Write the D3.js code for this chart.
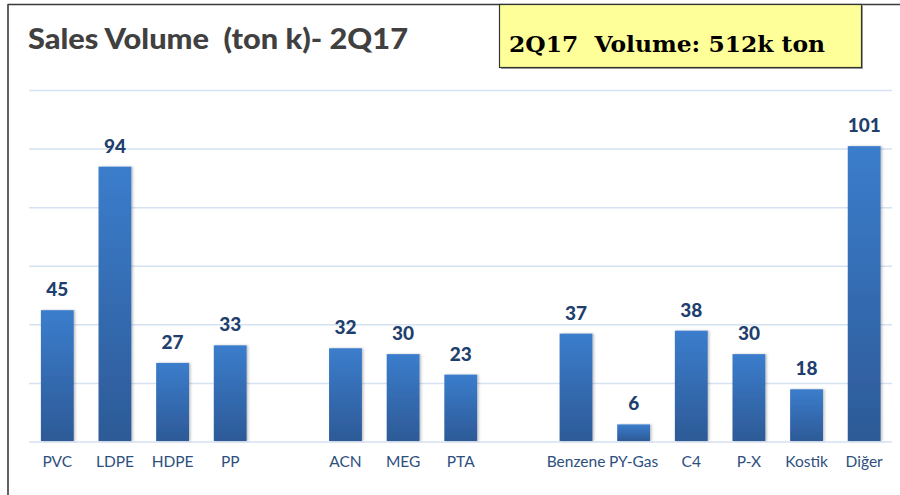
<!DOCTYPE html>
<html>
<head>
<meta charset="utf-8">
<script src="https://cdn.jsdelivr.net/npm/d3@7"></script>
<style>
    body { margin: 0; background: #fff; }
    svg { display: block; }
</style>
</head>
<body>
<script>
    // slots with an empty name are the gaps between product groups
    var categories = ['PVC', 'LDPE', 'HDPE', 'PP', '', 'ACN', 'MEG', 'PTA', '',
        'Benzene', 'PY-Gas', 'C4', 'P-X', 'Kostik', 'Diğer'];
    var volumes = [45, 94, 27, 33, null, 32, 30, 23, null, 37, 6, 38, 30, 18, 101];
    var gridTicks = [0, 20, 40, 60, 80, 100, 120];
    var titleText = 'Sales Volume\u00a0 (ton k)- 2Q17';
    var boxText = '2Q17\u00a0 Volume: 512k ton';

    var width = 900;
    var height = 495;

    var svg = d3.select('body').append('svg')
        .attr('width', width)
        .attr('height', height);

    var defs = svg.append('defs');
    var grad = defs.append('linearGradient')
        .attr('id', 'barGrad')
        .attr('x1', 0).attr('y1', 0).attr('x2', 0).attr('y2', 1);
    grad.append('stop').attr('offset', '0%').attr('stop-color', '#3b7dcc');
    grad.append('stop').attr('offset', '100%').attr('stop-color', '#2d5a97');

    var shadow = defs.append('filter').attr('id', 'barShadow')
        .attr('x', '-20%').attr('y', '-5%').attr('width', '150%').attr('height', '110%');
    shadow.append('feDropShadow')
        .attr('dx', 1.5).attr('dy', 0).attr('stdDeviation', 1.2)
        .attr('flood-color', '#000').attr('flood-opacity', 0.25);

    // frame: top and left edges only
    svg.append('line')
        .attr('x1', 8).attr('y1', 4.5).attr('x2', width).attr('y2', 4.5)
        .attr('stroke', '#3a3a3a').attr('stroke-width', 1.6);
    svg.append('line')
        .attr('x1', 8).attr('y1', 4).attr('x2', 8).attr('y2', height)
        .attr('stroke', '#3a3a3a').attr('stroke-width', 1.6);

    svg.append('text')
        .attr('x', 28)
        .attr('y', 49)
        .attr('font-family', 'Lato, "Open Sans", sans-serif')
        .attr('font-weight', 900)
        .attr('font-size', 29)
        .attr('textLength', 380)
        .attr('lengthAdjust', 'spacingAndGlyphs')
        .attr('fill', '#404040')
        .text(titleText);

    // yellow callout box
    svg.append('rect')
        .attr('x', 501).attr('y', 6)
        .attr('width', 362).attr('height', 63)
        .attr('fill', '#a0a0a0');
    svg.append('rect')
        .attr('x', 499.5).attr('y', 4.5)
        .attr('width', 362).attr('height', 63)
        .attr('fill', '#ffff99')
        .attr('stroke', '#333')
        .attr('stroke-width', 1.2);
    svg.append('text')
        .attr('x', 509)
        .attr('y', 52)
        .attr('font-family', '"DejaVu Serif", "Liberation Serif", serif')
        .attr('font-weight', 'bold')
        .attr('font-size', 22)
        .attr('textLength', 316)
        .attr('lengthAdjust', 'spacingAndGlyphs')
        .attr('fill', '#000')
        .text(boxText);

    var x = d3.scaleBand()
        .domain(d3.range(categories.length))
        .range([28.5, 893])
        .paddingInner(0.43)
        .paddingOuter(0.215);

    var y = d3.scaleLinear()
        .domain([0, 120])
        .range([442, 90.5]);

    svg.append('g')
        .selectAll('line')
        .data(gridTicks)
        .enter()
        .append('line')
        .attr('x1', 29)
        .attr('x2', 892)
        .attr('y1', function(d) { return y(d); })
        .attr('y2', function(d) { return y(d); })
        .attr('stroke', '#d5e2f2')
        .attr('stroke-width', 1.5);

    var items = categories.map(function(c, i) {
        return {name: c, value: volumes[i], i: i};
    });
    var filled = items.filter(function(d) { return d.value !== null; });

    svg.append('g')
        .selectAll('rect')
        .data(filled)
        .enter()
        .append('rect')
        .attr('x', function(d) { return x(d.i); })
        .attr('y', function(d) { return y(d.value); })
        .attr('width', x.bandwidth())
        .attr('height', function(d) { return y(0) - y(d.value) - 1; })
        .attr('fill', 'url(#barGrad)')
        .attr('filter', 'url(#barShadow)');

    svg.append('g')
        .selectAll('text')
        .data(filled)
        .enter()
        .append('text')
        .attr('x', function(d) { return x(d.i) + x.bandwidth() / 2; })
        .attr('y', function(d) { return y(d.value) - 14; })
        .attr('text-anchor', 'middle')
        .attr('font-family', 'Lato, "Open Sans", sans-serif')
        .attr('font-weight', 900)
        .attr('font-size', 19)
        .attr('fill', '#1f3f6e')
        .text(function(d) { return d.value; });

    svg.append('g')
        .selectAll('text')
        .data(filled)
        .enter()
        .append('text')
        .attr('x', function(d) { return x(d.i) + x.bandwidth() / 2; })
        .attr('y', 467)
        .attr('text-anchor', 'middle')
        .attr('font-family', 'Lato, "Open Sans", sans-serif')
        .attr('font-size', 15.5)
        .attr('fill', '#2e4f7e')
        .text(function(d) { return d.name; });
</script>
</body>
</html>
